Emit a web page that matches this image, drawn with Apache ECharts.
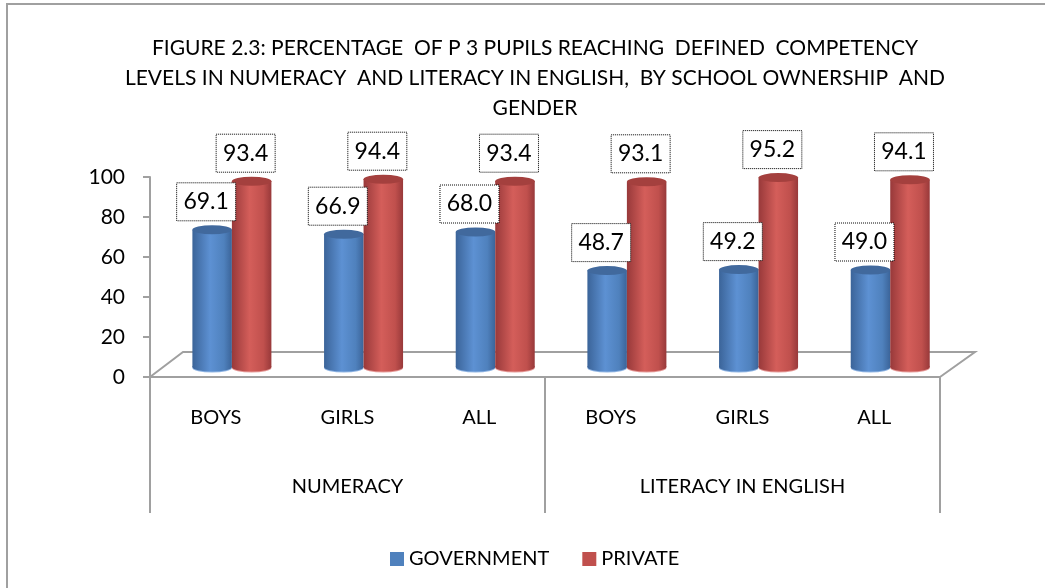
<!DOCTYPE html>
<html lang="en">
<head>
    <meta charset="UTF-8">
    <title>Figure 2.3</title>
    <script src="https://cdn.jsdelivr.net/npm/echarts@6/dist/echarts.min.js"></script>
</head>
<style>
    body { margin: 0; background: #fff; }
</style>
<body>
    <div id="box" style="width:1045px;height:588px"></div>
</body>
<script>
    // data
    const categories = ['BOYS', 'GIRLS', 'ALL', 'BOYS', 'GIRLS', 'ALL'];
    const groups = ['NUMERACY', 'LITERACY IN ENGLISH'];
    const government = [69.1, 66.9, 68.0, 48.7, 49.2, 49.0];
    const privateSchool = [93.4, 94.4, 93.4, 93.1, 95.2, 94.1];
    const seriesNames = ['GOVERNMENT', 'PRIVATE'];

    const colors = [
        { main: '#4F81BD', dark: '#3b6499', light: '#5d91d3', top: '#41699d', bottom: '#8fb4e3' },
        { main: '#C0504D', dark: '#98393a', light: '#d45e5a', top: '#a4403e', bottom: '#e59a98' }
    ];
    const font = 'Lato, "Open Sans", sans-serif';

    function cylinder(side) {
        return function (params, api) {
            let i = api.value(0), v = api.value(1);
            let base = api.coord([i, 0]);
            let top = api.coord([i, v]);
            let band = api.size([1, 0])[0];
            let w = band * 0.3;
            let dx = band * 0.122, dy = -9;
            let left = side === 0 ? base[0] + dx - w : base[0] + dx;
            let yb = base[1] + dy, yt = top[1] + dy;
            let rx = w / 2, ry = 4.5;
            let c = colors[side];
            let grad = new echarts.graphic.LinearGradient(0, 0, 1, 0, [
                { offset: 0, color: c.dark },
                { offset: 0.45, color: c.light },
                { offset: 0.8, color: c.main },
                { offset: 1, color: c.dark }
            ]);
            let cx = left + rx;
            let boxW = 59, boxH = 38;
            let bx = cx - 6 - boxW / 2, by = yt - 9 - boxH;
            return {
                type: 'group',
                children: [
                    { type: 'circle', shape: { cx: 0, cy: 0, r: rx }, x: cx, y: yb, scaleY: ry / rx, style: { fill: c.bottom } },
                    { type: 'circle', shape: { cx: 0, cy: 0, r: rx }, x: cx, y: yb - 1, scaleY: ry / rx, style: { fill: grad } },
                    { type: 'rect', shape: { x: left, y: yt, width: w, height: yb - yt - 1 }, style: { fill: grad } },
                    { type: 'circle', shape: { cx: 0, cy: 0, r: rx }, x: cx, y: yt, scaleY: ry / rx, style: { fill: c.top } },
                    { type: 'rect', z2: 10, shape: { x: bx, y: by, width: boxW, height: boxH }, style: { fill: '#fff', stroke: '#000', lineWidth: 1, lineDash: [1, 1] } },
                    { type: 'text', z2: 11, x: bx + boxW / 2, y: by + boxH / 2, style: { text: v.toFixed(1), fill: '#000', font: '23px ' + font, align: 'center', verticalAlign: 'middle' } }
                ]
            };
        };
    }

    var chart = echarts.init(document.getElementById('box'));
    var option = {
        animation: false,
        title: {
            text: 'FIGURE 2.3: PERCENTAGE  OF P 3 PUPILS REACHING  DEFINED  COMPETENCY\nLEVELS IN NUMERACY  AND LITERACY IN ENGLISH,  BY SCHOOL OWNERSHIP  AND\nGENDER',
            left: 530,
            top: 28,
            textAlign: 'center',
            textStyle: { fontFamily: font, fontSize: 21, fontWeight: 'normal', color: '#000', lineHeight: 30 }
        },
        legend: {
            data: seriesNames,
            left: 385,
            top: 544,
            icon: 'rect',
            itemWidth: 14,
            itemHeight: 14,
            itemGap: 33,
            textStyle: { fontFamily: font, fontSize: 20, color: '#000' }
        },
        grid: { left: 150, right: 105, top: 177, bottom: 211 },
        xAxis: [
            {
                type: 'category',
                data: categories,
                axisLine: { lineStyle: { color: '#a0a0a0', width: 2 } },
                axisTick: { length: 68, lineStyle: { color: '#a0a0a0', width: 2 } },
                axisLabel: { margin: 31, color: '#000', fontFamily: font, fontSize: 20 }
            },
            {
                type: 'category',
                data: groups,
                position: 'bottom',
                axisLine: { show: false },
                axisTick: { show: true, length: 136, lineStyle: { color: '#a0a0a0', width: 2 } },
                axisLabel: { margin: 100, color: '#000', fontFamily: font, fontSize: 20 }
            }
        ],
        yAxis: {
            type: 'value',
            min: 0,
            max: 100,
            interval: 20,
            axisLine: { show: true, lineStyle: { color: '#a0a0a0', width: 2 } },
            axisTick: { show: true, length: 7, lineStyle: { color: '#a0a0a0', width: 2 } },
            axisLabel: { margin: 25, color: '#000', fontFamily: font, fontSize: 21 },
            splitLine: { show: false }
        },
        series: [
            {
                name: seriesNames[0],
                type: 'custom',
                itemStyle: { color: colors[0].main },
                renderItem: cylinder(0),
                data: government.map((v, i) => [i, v])
            },
            {
                name: seriesNames[1],
                type: 'custom',
                itemStyle: { color: colors[1].main },
                renderItem: cylinder(1),
                data: privateSchool.map((v, i) => [i, v])
            }
        ]
    };
    chart.setOption(option);

    // floor of the 3D plot and outer frame
    var x0 = chart.convertToPixel({ xAxisIndex: 0 }, 0);
    var x5 = chart.convertToPixel({ xAxisIndex: 0 }, categories.length - 1);
    var half = (x5 - x0) / (categories.length - 1) / 2;
    var yz = chart.convertToPixel({ yAxisIndex: 0 }, 0);
    var fl = x0 - half, fr = x5 + half;
    chart.setOption({
        graphic: [
            {
                type: 'polyline', z: 0, silent: true,
                shape: { points: [[fl, yz], [fl + 33, yz - 25], [fr + 35, yz - 25], [fr, yz]] },
                style: { stroke: '#a0a0a0', lineWidth: 2, fill: null }
            },
            {
                type: 'rect', z: 0, silent: true,
                shape: { x: 7, y: 4, width: 1100, height: 700 },
                style: { stroke: '#a0a0a0', lineWidth: 2, fill: null }
            }
        ]
    });
</script>
</html>
